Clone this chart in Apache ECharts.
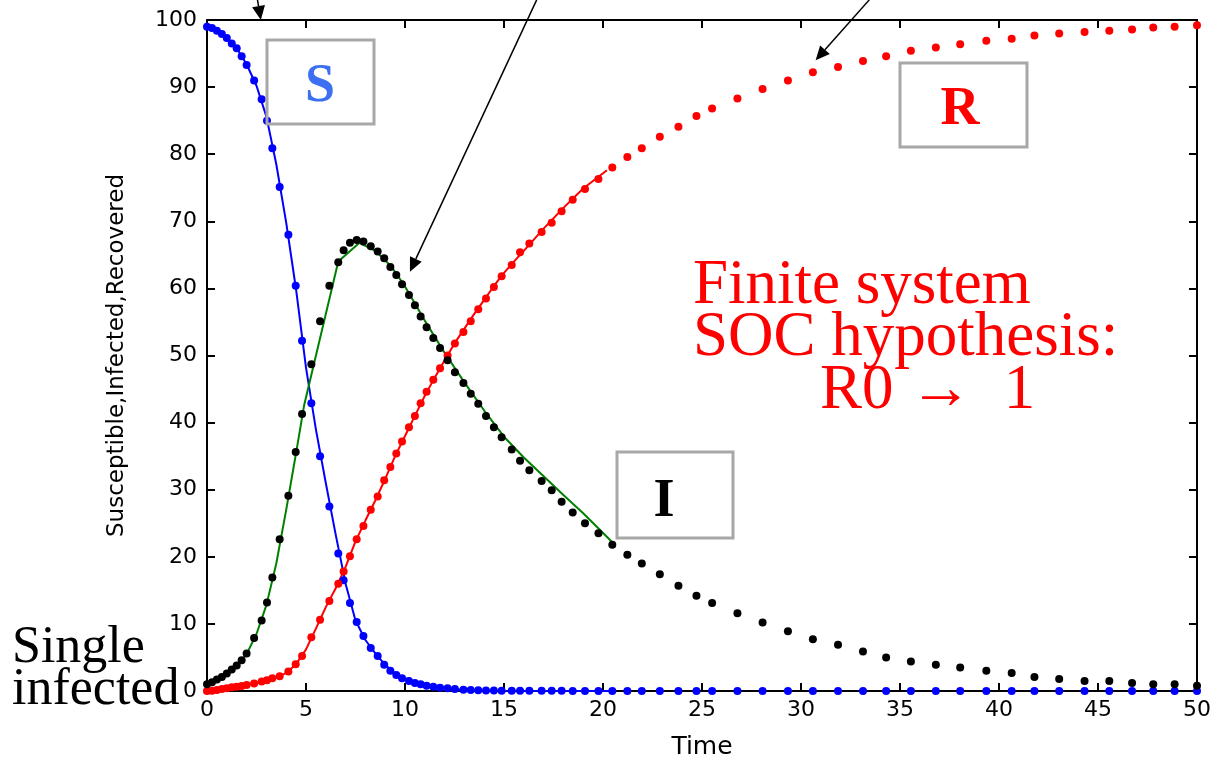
<!DOCTYPE html>
<html>
<head>
<meta charset="utf-8">
<script src="https://cdn.jsdelivr.net/npm/echarts@6/dist/echarts.min.js"></script>
<style>
  html, body { margin: 0; padding: 0; background: #ffffff; }
  #chart { width: 1211px; height: 760px; }
</style>
</head>
<body>
<div id="chart"></div>
<script>
// Output times of the simulation (shared by the three compartments)
const times = [0, 0.25, 0.5, 0.75, 1.0, 1.25, 1.5, 1.75, 2.0, 2.38, 2.76, 3.03, 3.3, 3.67, 4.11, 4.48, 4.8, 5.27, 5.71, 6.18,
  6.63, 6.9, 7.22, 7.56, 7.9, 8.27, 8.62, 8.95, 9.26, 9.56, 9.85, 10.2, 10.5, 10.79, 11.09, 11.43, 11.77, 12.15, 12.52, 12.95,
  13.32, 13.70, 14.09, 14.49, 14.88, 15.39, 15.81, 16.28, 16.90, 17.41, 17.91, 18.47, 19.09, 19.77, 20.47, 21.23, 21.96, 22.87,
  23.81, 24.72, 25.51, 26.79, 28.06, 29.34, 30.6, 31.87, 33.13, 34.3, 35.55, 36.81, 38.04, 39.36, 40.64, 41.79, 43.04, 44.32,
  45.57, 46.72, 47.79, 48.87, 50];

// Susceptible (%)
const susceptible = [99.0, 98.8, 98.4, 97.9, 97.3, 96.5, 95.8, 94.6, 93.3, 91.0, 88.2, 85.0, 80.9, 75.1, 68.0, 60.4, 52.2, 42.9, 35.0, 27.5,
  20.5, 16.5, 13.1, 10.3, 8.2, 6.4, 5.2, 3.9, 3.0, 2.4, 1.9, 1.5, 1.2, 1.0, 0.8, 0.65, 0.5, 0.4, 0.3, 0.2,
  0.15, 0.1, 0.08, 0.06, 0.05, 0.04, 0.03, 0.03, 0.02, 0.02, 0.02, 0.01, 0.01, 0.01, 0.01, 0, 0, 0,
  0, 0, 0, 0, 0, 0, 0, 0, 0, 0, 0, 0, 0, 0, 0, 0, 0, 0,
  0, 0, 0, 0, 0];

// Infected (%)
const infected = [1.0, 1.3, 1.7, 2.1, 2.6, 3.2, 3.8, 4.6, 5.6, 7.9, 10.5, 13.2, 16.9, 22.6, 29.1, 35.6, 41.3, 48.7, 55.1, 60.4,
  63.9, 65.7, 66.8, 67.2, 67.0, 66.3, 65.5, 64.5, 63.2, 62.0, 60.6, 59.0, 57.5, 55.8, 54.2, 52.6, 51.1, 49.3, 47.5, 45.9,
  44.3, 42.8, 41.0, 39.3, 37.8, 36.0, 34.3, 32.9, 31.3, 29.9, 28.2, 26.6, 25.0, 23.5, 21.8, 20.3, 19.0, 17.4,
  15.7, 14.2, 13.1, 11.6, 10.2, 8.9, 7.7, 6.9, 5.9, 5.0, 4.4, 3.9, 3.5, 3.0, 2.7, 2.1, 1.8, 1.5,
  1.5, 1.2, 1.0, 1.0, 0.8];

// Recovered (%)
const recovered = [0.0, 0.05, 0.15, 0.3, 0.4, 0.55, 0.65, 0.75, 0.9, 1.1, 1.4, 1.6, 1.9, 2.2, 2.9, 4.0, 5.2, 8.0, 10.6, 13.4,
  16.0, 17.8, 20.1, 22.6, 24.6, 27.0, 29.0, 31.4, 33.4, 35.4, 37.2, 39.3, 41.0, 42.9, 44.6, 46.4, 48.1, 50.0, 51.8, 53.5,
  55.1, 56.9, 58.5, 60.2, 61.8, 63.5, 65.4, 66.7, 68.4, 69.8, 71.5, 73.2, 74.8, 76.3, 78.0, 79.6, 80.9, 82.6,
  84.1, 85.7, 86.8, 88.3, 89.7, 91.0, 92.2, 93.0, 93.9, 94.6, 95.4, 95.9, 96.4, 96.9, 97.2, 97.7, 98.0, 98.2,
  98.4, 98.6, 98.9, 99.0, 99.2];

// Fitted model curves, [time, value]
const susceptibleFit = [[0, 99.1], [0.5, 98.5], [1, 97.3], [1.5, 95.8], [2, 93.4], [2.5, 90.2], [3, 85.6], [3.5, 78.5], [4, 69.8],
  [4.5, 59.8], [5, 48.2], [5.5, 39.0], [6, 31.0], [6.5, 23.3], [7, 16.0], [7.5, 10.5], [8, 7.6], [8.5, 5.6], [9, 3.9], [9.5, 2.6],
  [10, 1.9], [10.5, 1.3], [11, 0.85], [12, 0.4], [13, 0.15], [14, 0.05], [20.5, 0]];
const infectedFit = [[0, 1.0], [0.5, 1.6], [1, 2.5], [1.5, 3.7], [2, 5.5], [2.5, 8.5], [3, 12.8], [3.5, 19.0], [4, 27.0],
  [4.5, 35.5], [4.9, 42.5], [6.63, 64.0], [7.7, 66.8], [8.5, 65.6], [9.3, 63.3], [10, 60.3], [11, 55.2], [12, 50.4], [13, 46.0],
  [14, 41.8], [15, 37.9], [16, 34.8], [17, 32.0], [18, 29.2], [19, 26.5], [20.6, 21.8]];
const recoveredFit = [[0, 0], [1, 0.4], [2, 0.9], [3, 1.6], [3.5, 2.0], [4, 2.7], [4.5, 4.0], [5, 6.2], [5.5, 9.3], [6, 12.5],
  [6.5, 15.3], [7, 18.5], [7.5, 22.3], [8, 25.4], [8.5, 28.4], [9, 31.6], [9.5, 35.0], [10, 38.0], [10.5, 41.0], [11, 44.0],
  [11.5, 46.7], [12, 49.3], [12.5, 51.8], [13, 54.0], [13.5, 56.2], [14, 58.3], [14.5, 60.4], [15, 62.3], [15.5, 64.0],
  [16, 65.6], [17, 68.9], [18, 72.0], [19, 74.9], [20.2, 77.6]];

// Annotation arrows in data coordinates: tail -> head
const arrows = [
  { from: [2.55, 103], to: [2.72, 100] },
  { from: [16.65, 103], to: [10.25, 62.5] },
  { from: [33.45, 103], to: [30.74, 94.0] }
];

const pairs = vals => times.map((t, i) => [t, vals[i]]);

const chart = echarts.init(document.getElementById('chart'), null, { renderer: 'canvas' });

const axisFont = { fontFamily: 'DejaVu Sans', fontSize: 22, color: '#000' };
const frameLine = { lineStyle: { color: '#000', width: 2 } };
const tickStyle = { show: true, inside: true, length: 8, lineStyle: { color: '#000', width: 2 } };

const dotSeries = (name, vals, color) => ({
  name, type: 'scatter', data: pairs(vals), symbol: 'circle', symbolSize: 8,
  itemStyle: { color, opacity: 1 }, z: 4, silent: true, animation: false
});
const fitSeries = (name, data, color, width) => ({
  name, type: 'line', data, showSymbol: false, symbol: 'none',
  lineStyle: { color, width }, z: 3, silent: true, animation: false
});

chart.setOption({
  animation: false,
  backgroundColor: '#ffffff',
  grid: { left: 207, top: 20, width: 990, height: 671, containLabel: false, outerBoundsMode: 'none' },
  xAxis: [
    {
      type: 'value', min: 0, max: 50, interval: 5, position: 'bottom',
      name: 'Time', nameLocation: 'middle', nameGap: 44,
      nameTextStyle: { fontFamily: 'DejaVu Sans', fontSize: 25, color: '#000' },
      axisLine: { show: true, onZero: false, ...frameLine },
      axisTick: tickStyle,
      axisLabel: { ...axisFont, margin: 8 },
      splitLine: { show: false }
    },
    {
      type: 'value', min: 0, max: 50, interval: 5, position: 'top',
      axisLine: { show: true, onZero: false, ...frameLine },
      axisTick: tickStyle,
      axisLabel: { show: false }, splitLine: { show: false }
    }
  ],
  yAxis: [
    {
      type: 'value', min: 0, max: 100, interval: 10, position: 'left',
      name: 'Susceptible,Infected,Recovered', nameLocation: 'middle', nameGap: 78, nameRotate: 90,
      nameTextStyle: { fontFamily: 'DejaVu Sans', fontSize: 23, color: '#000' },
      axisLine: { show: true, onZero: false, ...frameLine },
      axisTick: tickStyle,
      axisLabel: { ...axisFont, margin: 10 },
      splitLine: { show: false }
    },
    {
      type: 'value', min: 0, max: 100, interval: 10, position: 'right',
      axisLine: { show: true, onZero: false, ...frameLine },
      axisTick: tickStyle,
      axisLabel: { show: false }, splitLine: { show: false }
    }
  ],
  series: [
    fitSeries('S fit', susceptibleFit, '#0000ff', 2),
    fitSeries('R fit', recoveredFit, '#ff0000', 2),
    fitSeries('I fit', infectedFit, '#008000', 2),
    dotSeries('S', susceptible, '#0000ff'),
    dotSeries('R', recovered, '#ff0000'),
    dotSeries('I', infected, '#000000')
  ]
});

// Labels, boxes and pointer arrows drawn on top of the plot
const boxStyle = { fill: 'rgba(0,0,0,0)', stroke: '#a8a8a8', lineWidth: 3 };
const serif = '"Liberation Serif", "DejaVu Serif", serif';
const graphics = [
  { type: 'rect', shape: { x: 267, y: 40, width: 107, height: 84 }, style: boxStyle, z: 10 },
  { type: 'text', x: 320, y: 87, style: { text: 'S', fill: '#3d6ff2', font: 'bold 54px ' + serif, align: 'center', verticalAlign: 'middle' }, z: 10 },
  { type: 'rect', shape: { x: 900, y: 63, width: 127, height: 84 }, style: boxStyle, z: 10 },
  { type: 'text', x: 960, y: 110, style: { text: 'R', fill: '#ff0000', font: 'bold 54px ' + serif, align: 'center', verticalAlign: 'middle' }, z: 10 },
  { type: 'rect', shape: { x: 617, y: 452, width: 116, height: 86 }, style: boxStyle, z: 10 },
  { type: 'text', x: 664, y: 502, style: { text: 'I', fill: '#000000', font: 'bold 54px ' + serif, align: 'center', verticalAlign: 'middle' }, z: 10 },
  { type: 'text', x: 693, y: 286, style: { text: 'Finite system', fill: '#ff0000', font: '63px ' + serif, align: 'left', verticalAlign: 'middle' }, z: 10 },
  { type: 'text', x: 693, y: 338, style: { text: 'SOC hypothesis:', fill: '#ff0000', font: '63px ' + serif, align: 'left', verticalAlign: 'middle' }, z: 10 },
  { type: 'text', x: 820, y: 391, style: { text: 'R0 \u2192  1', fill: '#ff0000', font: '63px ' + serif, align: 'left', verticalAlign: 'middle' }, z: 10 },
  { type: 'text', x: 12, y: 648, style: { text: 'Single', fill: '#000000', font: '52px ' + serif, align: 'left', verticalAlign: 'middle' }, z: 10 },
  { type: 'text', x: 12, y: 690, style: { text: 'infected', fill: '#000000', font: '52px ' + serif, align: 'left', verticalAlign: 'middle' }, z: 10 }
];

arrows.forEach(a => {
  const p0 = chart.convertToPixel({ gridIndex: 0 }, a.from);
  const p1 = chart.convertToPixel({ gridIndex: 0 }, a.to);
  const dx = p1[0] - p0[0], dy = p1[1] - p0[1];
  const len = Math.sqrt(dx * dx + dy * dy);
  const ux = dx / len, uy = dy / len;
  const headLen = 14, headHalf = 6.5;
  const bx = p1[0] - ux * headLen, by = p1[1] - uy * headLen;
  graphics.push({
    type: 'line', shape: { x1: p0[0], y1: p0[1], x2: bx, y2: by },
    style: { stroke: '#000', lineWidth: 1.5 }, z: 11
  });
  graphics.push({
    type: 'polygon',
    shape: { points: [[p1[0], p1[1]], [bx - uy * headHalf, by + ux * headHalf], [bx + uy * headHalf, by - ux * headHalf]] },
    style: { fill: '#000' }, z: 11
  });
});

chart.setOption({ graphic: graphics });
</script>
</body>
</html>
